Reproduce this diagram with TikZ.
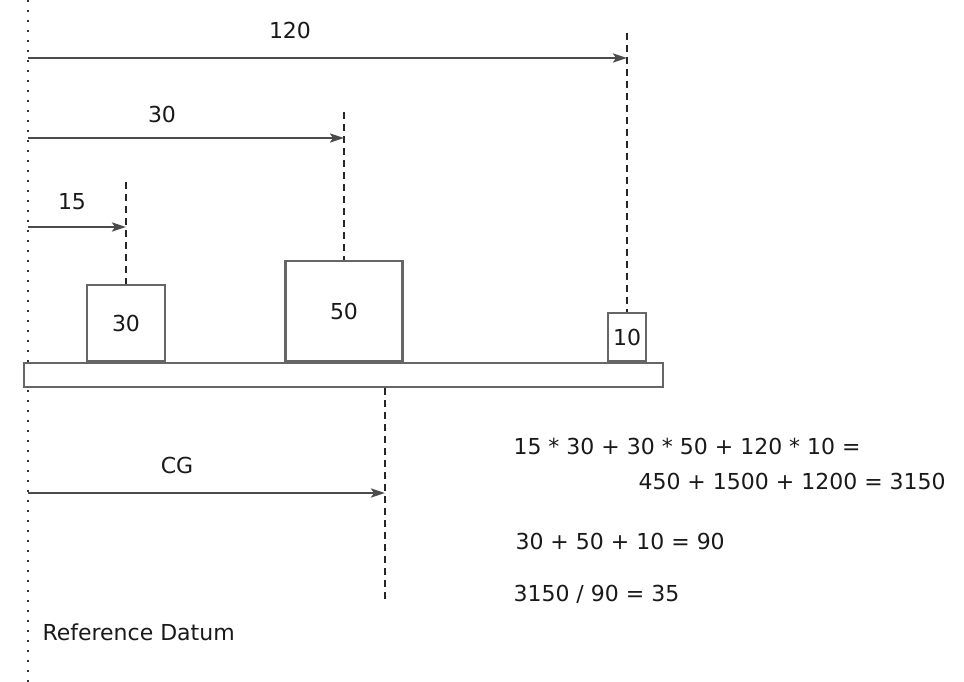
\documentclass[tikz,border=0pt]{standalone}
\usepackage{fontspec}
\setmainfont{DejaVu Sans}
\usetikzlibrary{arrows.meta}

\tikzset{
  mass/.style={draw=black!60,line width=2.5pt,fill=white,inner sep=0pt},
  guide/.style={black!85,line width=2pt,dash pattern=on 7pt off 5pt},
  dim/.style={->,black!70,line width=2.2pt},
}

\begin{document}
\begin{tikzpicture}[x=1pt,y=-1pt,>={Stealth[length=14pt,width=9pt,inset=3pt]},font=\fontsize{22}{26}\selectfont,text=black!90]
\useasboundingbox (0,0) rectangle (964,682);
% reference datum
\coordinate (dtop) at (28,0);
\coordinate (dbot) at (28,682);
\draw[black!80,line width=2.4pt,dash pattern=on 2.4pt off 7.6pt] (dtop) -- (dbot);
% beam and masses
\node[mass,minimum width=639,minimum height=24] (beam) at (343.5,375) {};
\node[mass,minimum width=78,minimum height=76] (m30) at (126,323) {30};
\node[mass,minimum width=117,minimum height=100] (m50) at (344,311) {50};
\node[mass,minimum width=38,minimum height=48] (m10) at (627,337) {10};
% guide lines
\coordinate (g15) at (126,182);
\coordinate (g30) at (344,112);
\coordinate (g120) at (627,33);
\coordinate (gcg) at (385,388);
\coordinate (gcgb) at (385,600);
\draw[guide] (g15) -- (m30.north);
\draw[guide] (g30) -- (m50.north);
\draw[guide] (g120) -- (m10.north);
\draw[guide] (gcg) -- (gcgb);
% distances
\coordinate (d120) at (28,58);
\coordinate (d30) at (28,138);
\coordinate (d15) at (28,227);
\coordinate (dcg) at (28,493);
\draw[dim] (d120) -- (g120 |- d120);
\draw[dim] (d30) -- (g30 |- d30);
\draw[dim] (d15) -- (g15 |- d15);
\draw[dim] (dcg) -- (gcg |- dcg);
\node (l120) at (290,30) {120};
\node (l30) at (162,114) {30};
\node (l15) at (72,202) {15};
\node (lcg) at (177,465) {CG};
% working
\node[anchor=west] (eq1) at (510,446) {15 * 30 + 30 * 50 + 120 * 10 =};
\node[anchor=west] (eq2) at (635,481) {450 + 1500 + 1200 = 3150};
\node[anchor=west] (eq3) at (512,541) {30 + 50 + 10 = 90};
\node[anchor=west] (eq4) at (510,594) {3150 / 90 = 35};
\node[anchor=west] (datum) at (39,632) {Reference Datum};
\end{tikzpicture}
\end{document}
